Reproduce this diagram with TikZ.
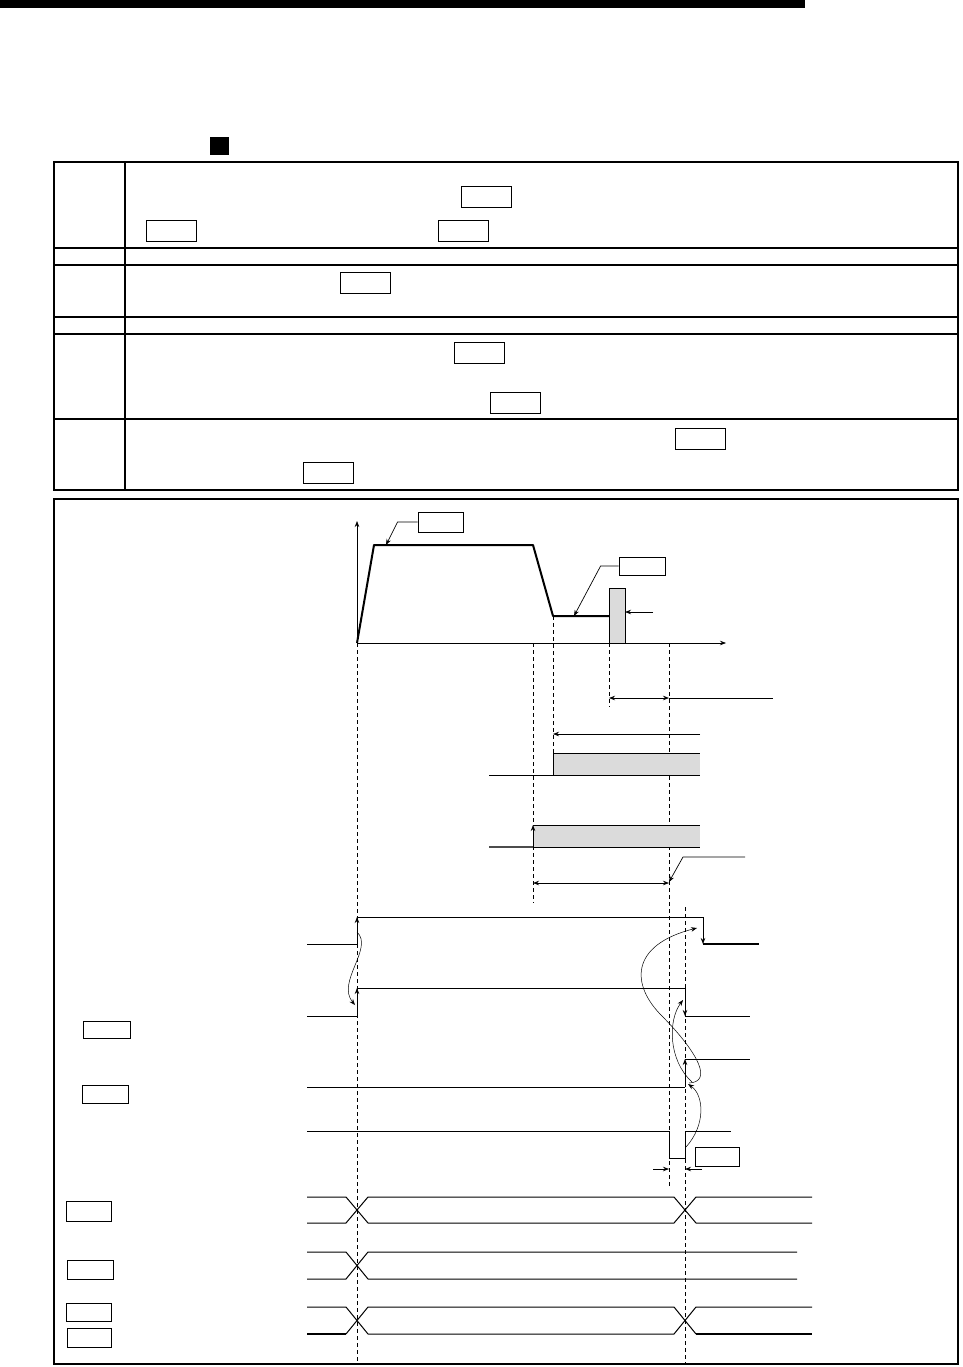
\documentclass[tikz,border=0pt]{standalone}
\usepackage{tikz}
\usetikzlibrary{arrows.meta, positioning}
\definecolor{barfill}{gray}{0.86}
\tikzstyle{labelbox} = [rectangle, draw=black, line width=0.8pt, inner sep=0pt, minimum width=46pt, minimum height=19pt]
\tikzstyle{tablebox} = [rectangle, draw=black, line width=0.9pt, inner sep=0pt, minimum width=50pt, minimum height=21pt]
\tikzstyle{arrow} = [line width=0.7pt, -{Stealth[length=6pt,width=4.5pt]}]
\tikzstyle{dimarrow} = [line width=0.7pt, {Stealth[length=6pt,width=4.5pt]}-{Stealth[length=6pt,width=4.5pt]}]
\tikzstyle{guide} = [line width=0.8pt, dash pattern=on 4pt off 3pt]
\tikzstyle{signal} = [line width=1pt]
\tikzstyle{curve} = [line width=0.5pt, -{Stealth[length=6pt,width=4.5pt]}]

\begin{document}
\begin{tikzpicture}[x=1pt, y=-1pt]
        \useasboundingbox (0,0) rectangle (962,1367);
        % header bar and bullet
        \fill (0,0) rectangle (805,8);
        \fill (210,137) rectangle (229,155);

        % table
        \draw [line width=2.5pt] (54,162) rectangle (958,490);
        \draw [line width=2pt] (125,162) -- (125,490);
        \foreach \y in {248,317,419} \draw [line width=2.5pt] (54,\y) -- (958,\y);
        \foreach \y in {265,334} \draw [line width=1.2pt] (54,\y) -- (958,\y);
        \node (tb1) [tablebox] at (486,196.5) {};
        \node (tb2) [tablebox] at (171.5,230.5) {};
        \node (tb3) [tablebox] at (463,230.5) {};
        \node (tb4) [tablebox] at (365,283) {};
        \node (tb5) [tablebox] at (479,352.5) {};
        \node (tb6) [tablebox] at (515,402.5) {};
        \node (tb7) [tablebox] at (700,438.5) {};
        \node (tb8) [tablebox] at (328,472.5) {};

        % chart frame
        \draw [line width=2.5pt] (54,499) rectangle (958,1364);

        % speed profile
        \coordinate (origin) at (357,643);
        \coordinate (accend) at (374,545);
        \coordinate (decstart) at (533,545);
        \coordinate (creep) at (553,616);
        \coordinate (stopper) at (609,616);
        \draw [arrow] (origin) -- (357,521);
        \draw [arrow] (origin) -- (726,643);
        \draw [line width=2pt, line join=round] (origin) -- (accend) -- (decstart) -- (creep) -- (stopper);
        \draw [fill=barfill, line width=0.8pt] (609,643) rectangle (625,588);
        \draw [arrow] (653,612) -- (625,612);
        \node (spdbox) [labelbox, minimum width=45pt, minimum height=20pt] at (440.5,522) {};
        \node (crpbox) [labelbox, minimum height=18pt] at (642,566) {};
        \draw [arrow] (spdbox.west) -- ++(-20,0) -- (386,545);
        \draw [arrow] (crpbox.west) -- ++(-18,0) -- (574,616);

        % guide lines
        \draw [guide] (357,643) -- (357,1364);
        \draw [guide] (533,643) -- (533,903);
        \draw [guide] (553,616) -- (553,753);
        \draw [guide] (609,643) -- (609,707);
        \draw [guide] (669,643) -- (669,1186);
        \draw [guide] (685,907) -- (685,1364);

        % dwell and search timing
        \draw [dimarrow] (609,698) -- (669,698);
        \draw [line width=0.7pt] (669,698) -- (773,698);
        \draw [arrow] (700,734) -- (553,734);
        \fill [barfill] (553,753) rectangle (700,775);
        \draw [signal] (489,775) -- (553,775) -- (553,753) -- (700,753);
        \draw [signal] (553,775) -- (700,775);
        \fill [barfill] (533,825) rectangle (700,847);
        \draw [line width=1.5pt, black!70] (489,847) -- (533,847);
        \draw [arrow] (533,847) -- (533,825);
        \draw [signal] (533,825) -- (700,825);
        \draw [signal] (533,847) -- (700,847);
        \draw [arrow] (745,857) -- (683,857) -- (669,882);
        \draw [dimarrow] (533,883) -- (669,883);

        % handshake signals
        \draw [signal] (307,944) -- (357,944);
        \draw [arrow] (357,944) -- (357,917);
        \draw [signal] (357,917) -- (703,917);
        \draw [arrow] (703,917) -- (703,944);
        \draw [line width=2pt] (703,944) -- (759,944);

        \draw [signal] (307,1016) -- (357,1016);
        \draw [arrow] (357,1016) -- (357,988);
        \draw [signal] (357,988) -- (685,988);
        \draw [arrow] (685,988) -- (685,1016);
        \draw [signal] (685,1016) -- (750,1016);

        \draw [signal] (307,1087) -- (685,1087);
        \draw [arrow] (685,1087) -- (685,1059);
        \draw [signal] (685,1059) -- (750,1059);

        \draw [signal] (307,1131) -- (669,1131) -- (669,1158) -- (685,1158) -- (685,1131) -- (731,1131);
        \node (pulsebox) [labelbox, minimum width=44pt] at (717,1156.5) {};
        \draw [arrow] (653,1169) -- (669,1169);
        \draw [arrow] (702,1169) -- (685,1169);

        % causal curves
        \draw [curve] (357,932) .. controls (374,948) and (336,982) .. (355,1005);
        \draw [curve] (686,1147) .. controls (706,1125) and (704,1095) .. (688,1084);
        \draw [curve] (692,1082) .. controls (668,1060) and (668,1020) .. (683,1000);
        \draw [curve] (689,1083) .. controls (712,1082) and (700,1055) .. (663,1017) .. controls (630,985) and (630,945) .. (697,928);

        % left label boxes
        \node (lbl1) [labelbox, minimum width=47pt, minimum height=17pt] at (106.5,1029.5) {};
        \node (lbl2) [labelbox, minimum height=18pt] at (105,1094) {};
        \node (lbl3) [labelbox, minimum width=45pt, minimum height=20pt] at (88.5,1211) {};
        \node (lbl4) [labelbox] at (90,1269.5) {};
        \node (lbl5) [labelbox, minimum width=45pt, minimum height=18pt] at (88.5,1312) {};
        \node (lbl6) [labelbox, minimum width=44pt] at (89,1337.5) {};

        % data buses
        \draw [signal] (307,1197) -- (346,1197) -- (368,1223) -- (674,1223) -- (696,1197) -- (812,1197);
        \draw [signal] (307,1223) -- (346,1223) -- (368,1197) -- (674,1197) -- (696,1223) -- (812,1223);
        \draw [signal] (307,1252) -- (346,1252) -- (368,1279) -- (797,1279);
        \draw [signal] (307,1279) -- (346,1279) -- (368,1252) -- (797,1252);
        \draw [signal] (307,1307) -- (346,1307) -- (368,1334) -- (674,1334) -- (696,1307) -- (812,1307);
        \draw [signal] (346,1334) -- (368,1307) -- (674,1307) -- (696,1334);
        \draw [line width=2pt] (307,1334) -- (346,1334);
        \draw [line width=2pt] (696,1334) -- (812,1334);
\end{tikzpicture}
\end{document}
